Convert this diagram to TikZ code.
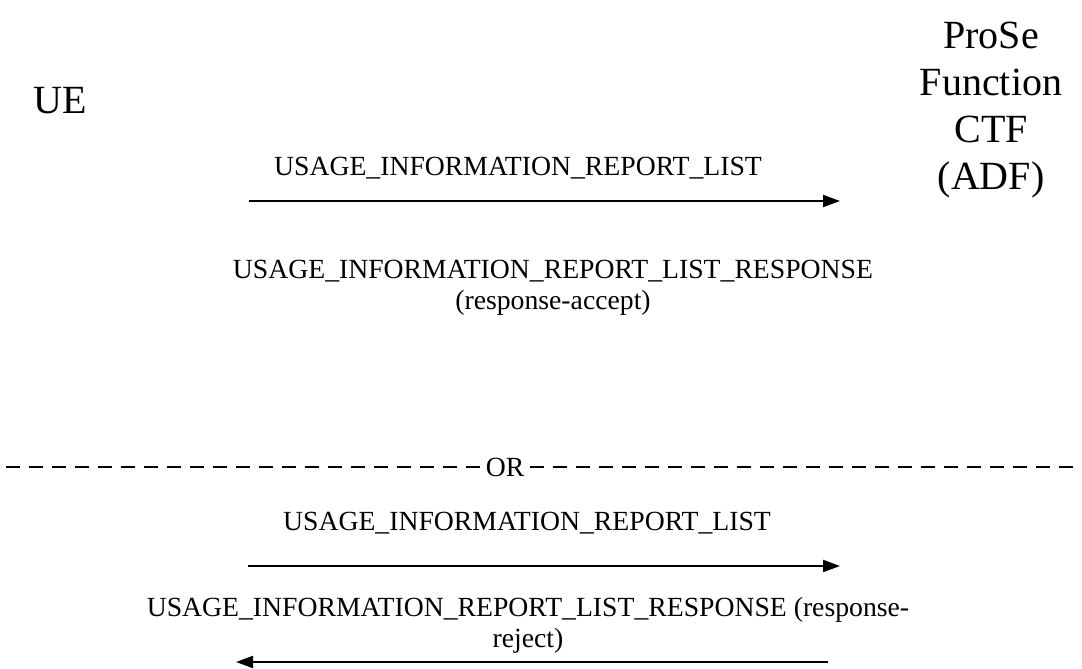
\documentclass[tikz,border=0pt]{standalone}
\usepackage{fontspec}
\setmainfont{Liberation Serif}
\usetikzlibrary{arrows.meta}
\tikzset{
  lbl/.style={inner sep=0pt, font=\fontsize{27.7}{31}\selectfont, align=center},
  ent/.style={inner sep=0pt, font=\fontsize{40}{47}\selectfont, align=center},
  msg/.style={line width=2pt, -{Triangle[length=17pt,width=12pt]}},
  sep/.style={line width=1.5pt, dash pattern=on 14pt off 9pt},
}
\begin{document}
\begin{tikzpicture}[x=1pt,y=-1pt]
\useasboundingbox (0,0) rectangle (1082,669);
\node[ent] (ue) at (60,101) {UE};
\node[ent] (pf) at (991,110) {ProSe\\Function\\CTF\\(ADF)};
% first alternative
\node[lbl] (m1) at (518,168) {USAGE\_INFORMATION\_REPORT\_LIST};
\coordinate (a1s) at (249,201);
\coordinate (a1e) at (840,201);
\draw[msg] (a1s) -- (a1e);
\node[lbl] (m2) at (553,288) {USAGE\_INFORMATION\_REPORT\_LIST\_RESPONSE\\(response-accept)};
% separator
\node[lbl, inner xsep=6pt] (or) at (505,467) {OR};
\coordinate (dl) at (0,467);
\coordinate (dr) at (1082,467);
\draw[sep] (or.west) -- (dl);
\draw[sep] (or.east) -- (dr);
% second alternative
\node[lbl] (m3) at (527,523) {USAGE\_INFORMATION\_REPORT\_LIST};
\coordinate (a2s) at (248,566);
\coordinate (a2e) at (840,566);
\draw[msg] (a2s) -- (a2e);
\node[lbl] (m4) at (528,625) {USAGE\_INFORMATION\_REPORT\_LIST\_RESPONSE (response-\\reject)};
\coordinate (a3s) at (828,662);
\coordinate (a3e) at (236,662);
\draw[msg] (a3s) -- (a3e);
\end{tikzpicture}
\end{document}
